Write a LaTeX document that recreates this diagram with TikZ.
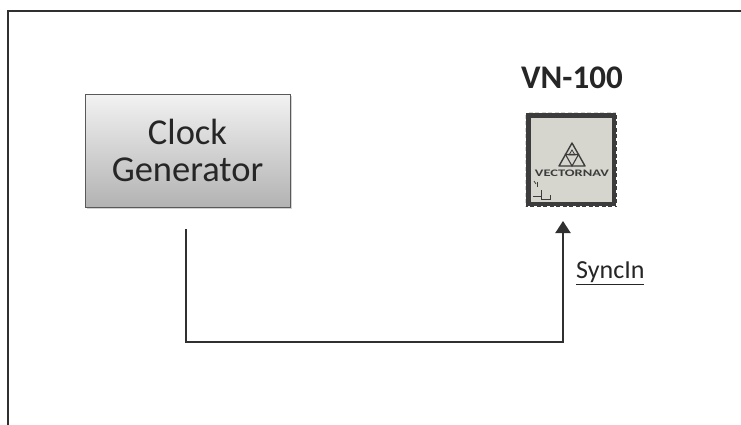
\documentclass[tikz,border=0pt]{standalone}
\usepackage{fontspec}
\setmainfont{Carlito}
\usetikzlibrary{shadows,arrows.meta}
\definecolor{linecol}{HTML}{303030}
\definecolor{chipfill}{HTML}{D6D6CE}
\definecolor{chipedge}{HTML}{3C3C3C}
\tikzset{
  frame/.style={draw=linecol, line width=2pt},
  clockbox/.style={draw=gray!70!black, line width=0.8pt, top color=gray!10, bottom color=gray!60,
    minimum width=205pt, minimum height=113pt, inner sep=0pt, align=center,
    font=\fontsize{36.5}{37}\selectfont, text=black!85,
    drop shadow={opacity=0.35, shadow xshift=2pt, shadow yshift=-2pt}},
  wire/.style={draw=linecol, line width=2pt},
  title/.style={font=\fontsize{33}{35}\selectfont\bfseries, text=black!85},
  lbl/.style={font=\fontsize{26}{28}\selectfont, text=black!85},
}
\begin{document}
\begin{tikzpicture}[x=1pt,y=-1pt]
\useasboundingbox (0,0) rectangle (741,424);
\fill[white] (0,0) rectangle (741,424);
% outer frame (only left and top edges visible)
\draw[frame] (8,430) -- (8,11) -- (745,11);
% clock generator
\node[clockbox] (clk) at (187.5,150.5) {Clock\\Generator};
% title
\node[title] (vnt) at (572,78) {VN-100};
% chip
\fill[chipfill] (525,112) rectangle (617,207);
\draw[chipedge, line width=5pt] (528,115) rectangle (614,204);
\draw[white, line width=1.6pt, dash pattern=on 2.5pt off 4pt] (525,112) rectangle (617,207);
\node[minimum width=92pt, minimum height=95pt, inner sep=0pt] (chip) at (571,159.5) {};
% logo
\draw[chipedge, line width=1.4pt, line join=round] (572,143) -- (559,166) -- (585,166) -- cycle;
\draw[chipedge, line width=1.1pt] (565.5,154.5) -- (578.5,154.5) -- (572,166) -- cycle;
\draw[chipedge, line width=0.8pt] (572,150) -- (569,155) -- (575,155) -- cycle;
\node[font=\fontsize{10}{10}\selectfont\bfseries, text=chipedge, xscale=1.45, inner sep=0pt] (brand) at (572,173) {VECTORNAV};
% axes icon
\draw[chipedge, line width=1pt] (537,182) -- (537,187) (541,190) -- (541,199) -- (550,199) -- (550,195) (533,196) -- (541,196);
\draw[chipedge, line width=0.7pt] (534,181) -- (536,184);
% connector
\coordinate (start) at (186,229);
\coordinate (c1) at (186,342);
\coordinate (c2) at (563,342);
\coordinate (tip) at (563,221);
\draw[wire, -{Triangle[length=12pt,width=15pt]}] (start) -- (c1) -- (c2) -- (tip);
% SyncIn label
\node[lbl, anchor=west, inner sep=0pt] (sync) at (576,273) {\underline{SyncIn}};
\end{tikzpicture}
\end{document}
